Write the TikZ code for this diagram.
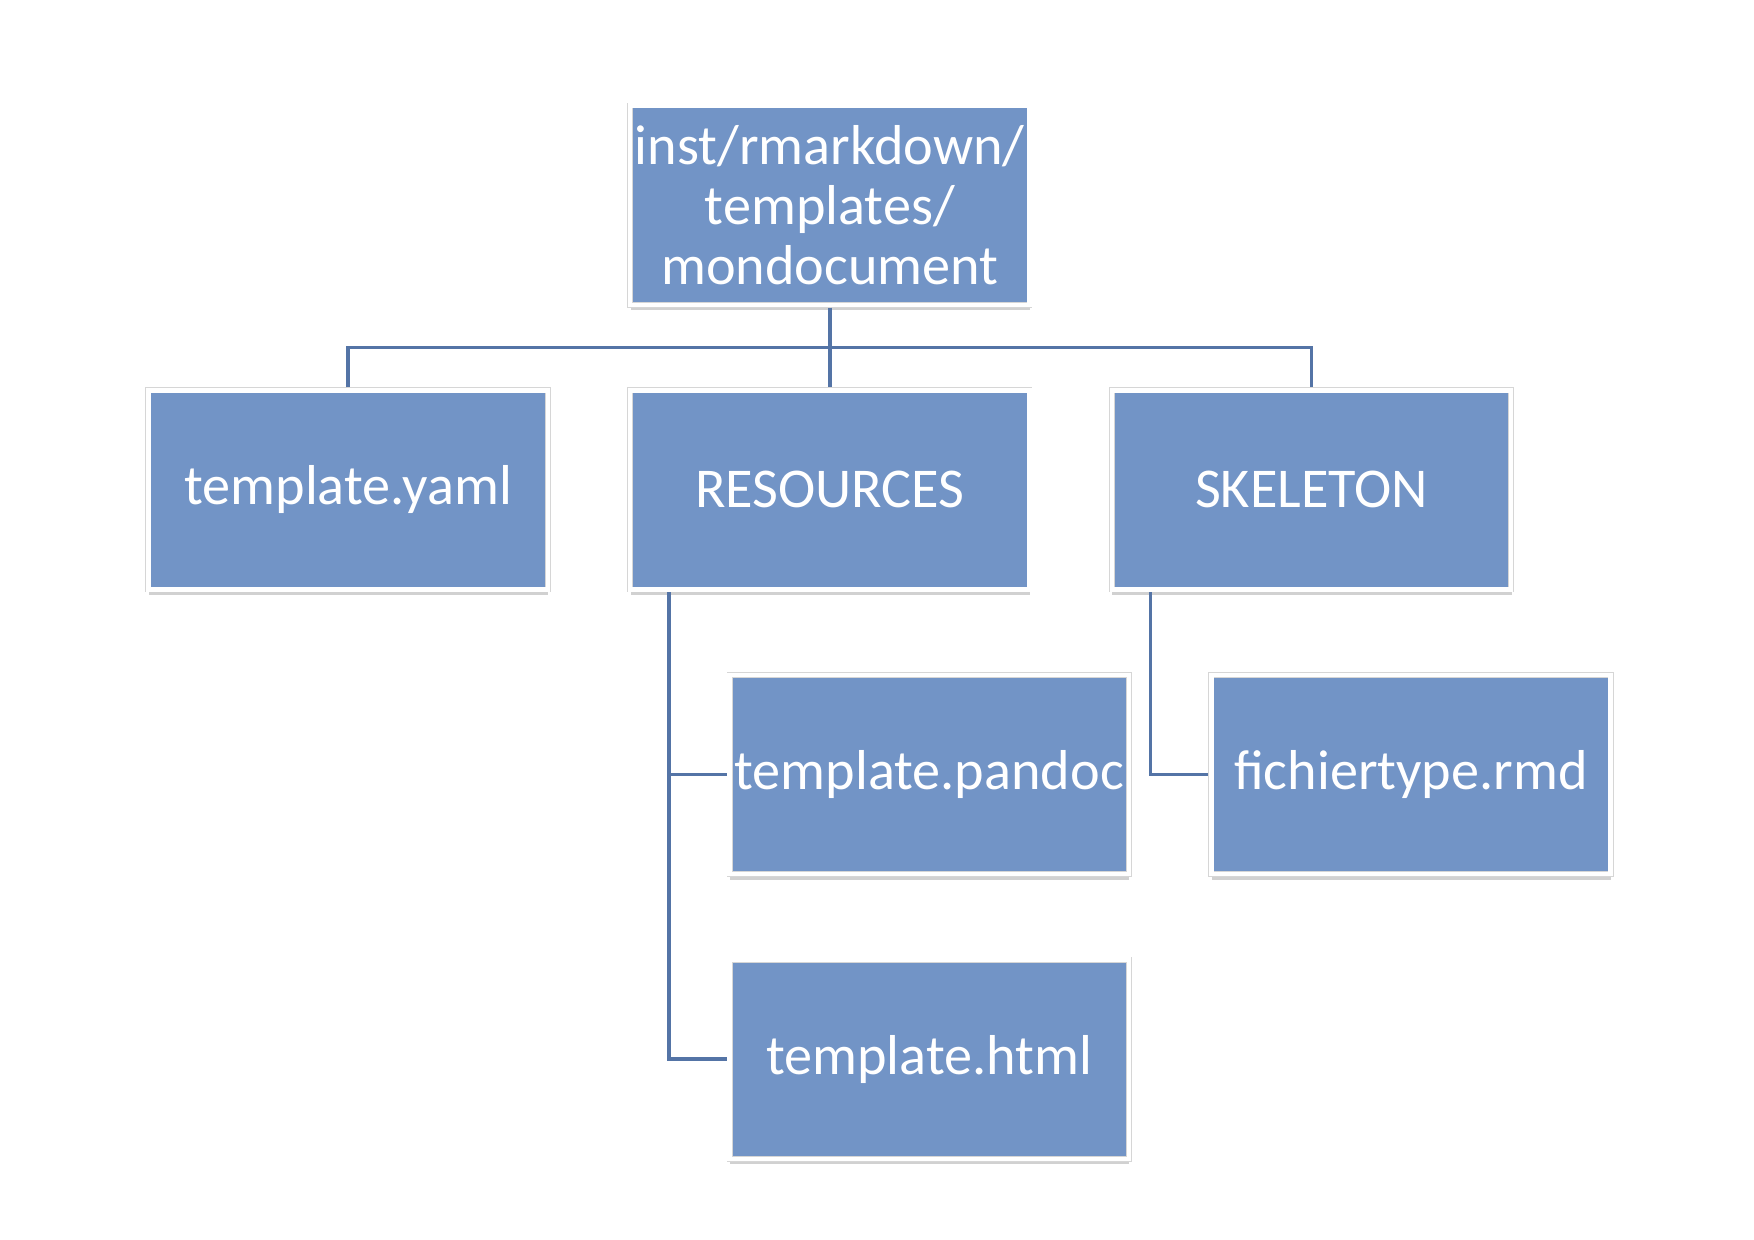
\documentclass[tikz,border=0pt]{standalone}
\usepackage{fontspec}
\setmainfont{Carlito}
\usetikzlibrary{positioning,calc,shadows}
\definecolor{boxblue}{RGB}{114,148,198}
\definecolor{linkblue}{RGB}{84,116,166}

\begin{document}
\begin{tikzpicture}[box/.style={rectangle,draw=black!16,line width=0.3pt,double=white,double distance=2pt,outer sep=1.3pt,fill=boxblue,text=white,minimum width=177.6pt,minimum height=88.6pt,inner sep=0pt,align=center,font=\fontsize{25}{26.5}\selectfont,drop shadow={shadow xshift=0.2pt,shadow yshift=-2.4pt,opacity=0.3,fill=black!60}},
	link/.style={draw=linkblue,line width=1.6pt},node distance=35.4pt]

	\useasboundingbox (-369pt,-459.75pt) rectangle (411pt,91.25pt);

	\node[box] (top) at (0,0) {inst/rmarkdown/\\templates/\\mondocument};
	\node[box,below=of top] (res) {RESOURCES};
	\node[box,left=34pt of res] (yaml) {template.yaml};
	\node[box,right=34pt of res] (skel) {SKELETON};
	\node[box,below=of res,xshift=44.25pt] (pandoc) {template.pandoc};
	\node[box,below=of pandoc] (html) {template.html};
	\node[box,below=of skel,xshift=44.25pt] (fich) {fichiertype.rmd};

	\coordinate (bar) at ($(top.south)!0.5!(res.north)$);
	\draw[link] (top.south) -- (res.north);
	\draw[link] (yaml.north) |- (bar) -| (skel.north);
	\draw[link] ([xshift=18.5pt]res.south west) |- (pandoc.west);
	\draw[link] ([xshift=18.5pt]res.south west) |- (html.west);
	\draw[link] ([xshift=18.5pt]skel.south west) |- (fich.west);

\end{tikzpicture}
\end{document}
